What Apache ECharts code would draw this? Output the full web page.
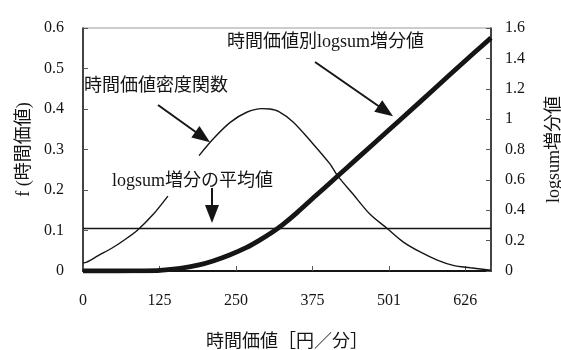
<!DOCTYPE html>
<html>
<head>
<meta charset="utf-8">
<script src="https://cdn.jsdelivr.net/npm/echarts@6/dist/echarts.min.js"></script>
<style>
html,body{margin:0;padding:0;background:#fff;}
#chart{width:561px;height:350px;}
</style>
</head>
<body>
<div id="chart"></div>
<script>
// ---- data ----
const xTickLabels = ['0', '125', '250', '375', '501', '626'];
const xStep = 125.2;
const xMax = 668;
const leftTickLabels = ['0', '0.1', '0.2', '0.3', '0.4', '0.5', '0.6'];
const rightTickLabels = ['0', '0.2', '0.4', '0.6', '0.8', '1', '1.2', '1.4', '1.6'];

// 時間価値密度関数 (left axis); '-' = hidden part of the curve
const densityX = [0, 6, 25, 49, 70, 90, 115, 139, 165, 190, 213, 241, 268, 293, 306, 320, 344, 376, 404, 417, 442, 470, 498, 524, 552, 580, 606, 634, 661, 668];
const densityY = [0.020, 0.022, 0.038, 0.058, 0.079, 0.102, 0.140, 0.185, '-', 0.285, 0.326, 0.367, 0.392, 0.401, 0.400, 0.394, 0.368, 0.315, 0.265, 0.235, 0.190, 0.140, 0.105, 0.072, 0.047, 0.027, 0.014, 0.008, 0.003, 0.002];

// 時間価値別logsum増分値 (right axis)
const logsumX = [0, 60, 100, 126, 159, 190, 213, 240, 268, 290, 311, 327, 350, 380, 417, 450, 498, 550, 600, 640, 668];
const logsumY = [0, 0, 0.001, 0.004, 0.017, 0.040, 0.066, 0.105, 0.155, 0.205, 0.258, 0.305, 0.383, 0.492, 0.625, 0.745, 0.918, 1.107, 1.290, 1.435, 1.535];

// logsum増分の平均値 (right axis)
const avgLogsum = 0.28;

// annotation arrows: [start, arrow-head] in left-axis data coordinates
const arrowDensityLabel = [[122.8, 0.410], [196.0, 0.331]];
const arrowLogsumLabel = [[379.9, 0.516], [495.5, 0.395]];
const arrowAvgLabel = [[211.2, 0.205], [211.2, 0.141]];

// ---- chart ----
const serif = "'Liberation Serif', 'Noto Sans CJK JP', serif";
const ink = '#151515';

function zip(xs, ys) { return xs.map((x, i) => [x, ys[i]]); }
function idxLabel(arr, step) {
  return function (v) {
    const i = Math.round(v / step);
    if (Math.abs(v - i * step) > 1e-3 || i < 0 || i >= arr.length) return '';
    return arr[i];
  };
}

const chart = echarts.init(document.getElementById('chart'), null, { renderer: 'canvas' });
chart.setOption({
  animation: false,
  backgroundColor: '#fff',
  textStyle: { fontFamily: serif },
  grid: {
    left: 83, right: 70, top: 28, bottom: 79, containLabel: false, outerBoundsMode: 'none',
    show: true, borderColor: '#9a9a9a', borderWidth: 1, backgroundColor: 'transparent'
  },
  xAxis: {
    type: 'value', min: 0, max: xMax, interval: xStep,
    name: '時間価値［円／分］', nameLocation: 'middle', nameGap: 62,
    nameTextStyle: { fontFamily: serif, fontSize: 18, color: ink },
    axisLine: { show: true, lineStyle: { color: ink, width: 2 } },
    axisTick: { show: true, inside: true, length: 5, lineStyle: { color: '#555' } },
    axisLabel: { margin: 22, fontFamily: serif, fontSize: 16, color: ink, formatter: idxLabel(xTickLabels, xStep) },
    splitLine: { show: false }
  },
  yAxis: [
    {
      type: 'value', min: 0, max: 0.6, interval: 0.1, position: 'left',
      name: 'f (時間価値)', nameLocation: 'middle', nameRotate: 90, nameGap: 48,
      nameTextStyle: { fontFamily: serif, fontSize: 18, color: ink },
      axisLine: { show: true, lineStyle: { color: ink, width: 1.5 } },
      axisTick: { show: true, inside: true, length: 5, lineStyle: { color: '#555' } },
      axisLabel: { margin: 19, fontFamily: serif, fontSize: 16, color: ink, formatter: idxLabel(leftTickLabels, 0.1) },
      splitLine: { show: false }
    },
    {
      type: 'value', min: 0, max: 1.6, interval: 0.2, position: 'right',
      name: 'logsum増分値', nameLocation: 'middle', nameRotate: 90, nameGap: 54,
      nameTextStyle: { fontFamily: serif, fontSize: 18, color: ink },
      axisLine: { show: true, lineStyle: { color: ink, width: 1.5 } },
      axisTick: { show: true, inside: true, length: 5, lineStyle: { color: '#555' } },
      axisLabel: { margin: 14, fontFamily: serif, fontSize: 16, color: ink, formatter: idxLabel(rightTickLabels, 0.2) },
      splitLine: { show: false }
    }
  ],
  series: [
    {
      name: '時間価値密度関数', type: 'line', yAxisIndex: 0,
      data: zip(densityX, densityY), smooth: 0.3, connectNulls: false,
      showSymbol: false, symbol: 'none',
      lineStyle: { color: ink, width: 1.4 },
      markLine: {
        silent: true, symbol: ['none', 'triangle'], symbolSize: [14, 18],
        label: { show: false },
        lineStyle: { color: ink, width: 2, type: 'solid' },
        data: [arrowDensityLabel, arrowLogsumLabel, arrowAvgLabel].map(a => [{ coord: a[0] }, { coord: a[1] }])
      },
      z: 3
    },
    {
      name: '時間価値別logsum増分値', type: 'line', yAxisIndex: 1,
      data: zip(logsumX, logsumY), smooth: 0.3,
      showSymbol: false, symbol: 'none',
      lineStyle: { color: ink, width: 4.8 },
      z: 2
    },
    {
      name: 'logsum増分の平均値', type: 'line', yAxisIndex: 1,
      data: [[0, avgLogsum], [xMax, avgLogsum]],
      showSymbol: false, symbol: 'none',
      lineStyle: { color: ink, width: 1.6 },
      z: 2
    }
  ],
  graphic: [
    { type: 'text', left: 227, top: 33, z: 10, style: { text: '時間価値別logsum増分値', font: "18px " + serif, fill: ink } },
    { type: 'text', left: 84, top: 77, z: 10, style: { text: '時間価値密度関数', font: "18px " + serif, fill: ink } },
    { type: 'text', left: 112, top: 172, z: 10, style: { text: 'logsum増分の平均値', font: "18px " + serif, fill: ink } }
  ]
});
</script>
</body>
</html>
